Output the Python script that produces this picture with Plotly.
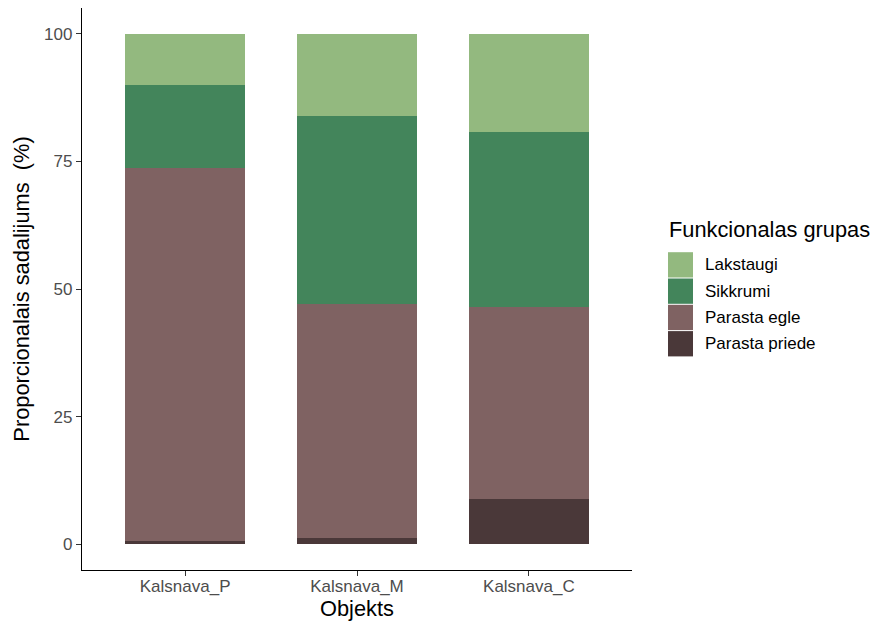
import plotly.graph_objects as go

# Sites on the x axis
sites = ["Kalsnava_P", "Kalsnava_M", "Kalsnava_C"]

# Proportional share (%) of each functional group per site
parasta_priede = [0.6, 1.3, 8.8]
parasta_egle = [73.1, 45.8, 37.7]
sikkrumi = [16.3, 36.8, 34.2]
lakstaugi = [10.0, 16.1, 19.3]

group_names = ["Parasta priede", "Parasta egle", "Sikkrumi", "Lakstaugi"]
group_values = [parasta_priede, parasta_egle, sikkrumi, lakstaugi]
group_colors = ["#4A3839", "#7F6262", "#43855B", "#93B97F"]

y_ticks = [0, 25, 50, 75, 100]

FONT = "Liberation Sans, Arial, sans-serif"
TICK_SIZE = 17
TITLE_SIZE = 21.8

fig = go.Figure()
for name, vals, col in zip(group_names, group_values, group_colors):
    fig.add_trace(go.Bar(
        x=sites, y=vals, name=name,
        marker=dict(color=col, line=dict(width=0)),
        width=0.7, showlegend=False,
    ))

W, H = 872, 621
ml, mr, mt, mb = 82, 240, 8, 51
pw, ph = W - ml - mr, H - mt - mb

fig.update_layout(
    width=W, height=H,
    barmode="stack",
    plot_bgcolor="white", paper_bgcolor="white",
    margin=dict(l=ml, r=mr, t=mt, b=mb, autoexpand=False),
    font=dict(family=FONT, color="#000000"),
)

fig.update_xaxes(
    range=[-0.6, 2.6],
    showline=True, linecolor="#000000", linewidth=1.3,
    ticks="outside", ticklen=5, tickwidth=1.1, tickcolor="#333333",
    ticklabelstandoff=-5,
    tickfont=dict(size=TICK_SIZE, color="#4D4D4D", family=FONT),
    showgrid=False, zeroline=False,
    title=dict(text="Objekts", font=dict(size=TITLE_SIZE, color="#000000", family=FONT), standoff=3),
    automargin=False,
)
fig.update_yaxes(
    range=[-5, 105],
    tickvals=y_ticks, ticktext=[str(v) for v in y_ticks],
    showline=True, linecolor="#000000", linewidth=1.3,
    ticks="outside", ticklen=5, tickwidth=1.1, tickcolor="#333333",
    tickfont=dict(size=TICK_SIZE, color="#4D4D4D", family=FONT),
    showgrid=False, zeroline=False,
    title=dict(text="Proporcionalais sadalijums  (%)", font=dict(size=TITLE_SIZE, color="#000000", family=FONT), standoff=8),
    automargin=False,
)


def px_x(x):
    return (x - ml) / pw


def px_y(y):
    return 1 - (y - mt) / ph


# Legend drawn as key boxes and labels on the right side
key_left = 668
key_w = 25
key_h = 26.3
key_top = 251.7
fig.add_annotation(
    x=px_x(key_left - 1), y=px_y(230), xref="paper", yref="paper",
    text="Funkcionalas grupas", showarrow=False,
    xanchor="left", yanchor="middle",
    font=dict(size=TITLE_SIZE, color="#000000", family=FONT),
)
for i, (name, col) in enumerate(zip(group_names[::-1], group_colors[::-1])):
    top = key_top + i * key_h
    fig.add_shape(
        type="rect", xref="paper", yref="paper",
        x0=px_x(key_left), x1=px_x(key_left + key_w),
        y0=px_y(top + 0.5), y1=px_y(top + key_h - 0.5),
        fillcolor=col, line=dict(width=0), layer="above",
    )
    fig.add_annotation(
        x=px_x(703), y=px_y(top + key_h / 2),
        xref="paper", yref="paper",
        text=name, showarrow=False, xanchor="left", yanchor="middle",
        font=dict(size=TICK_SIZE, color="#000000", family=FONT),
    )

fig.write_html("out.html")
